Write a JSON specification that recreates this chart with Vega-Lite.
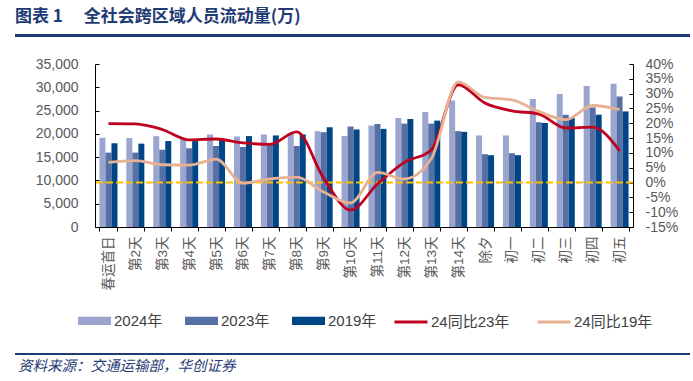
{
  "$schema": "https://vega.github.io/schema/vega-lite/v6.json",
  "padding": {"left": 15, "top": 8, "right": 3, "bottom": 0},
  "background": "white",
  "config": {"view": {"stroke": null}, "font": "Liberation Sans, Noto Sans CJK SC, sans-serif", "axis": {"labelOverlap": false, "labelBound": false}},
  "datasets": {
    "bars": [
      {"c": "春运首日", "yr": "2024年", "v": 19150}, {"c": "春运首日", "yr": "2023年", "v": 15970}, {"c": "春运首日", "yr": "2019年", "v": 17960},
      {"c": "第2天", "yr": "2024年", "v": 19100}, {"c": "第2天", "yr": "2023年", "v": 15970}, {"c": "第2天", "yr": "2019年", "v": 17900},
      {"c": "第3天", "yr": "2024年", "v": 19500}, {"c": "第3天", "yr": "2023年", "v": 16600}, {"c": "第3天", "yr": "2019年", "v": 18450},
      {"c": "第4天", "yr": "2024年", "v": 18950}, {"c": "第4天", "yr": "2023年", "v": 16900}, {"c": "第4天", "yr": "2019年", "v": 18450},
      {"c": "第5天", "yr": "2024年", "v": 19870}, {"c": "第5天", "yr": "2023年", "v": 17400}, {"c": "第5天", "yr": "2019年", "v": 18820},
      {"c": "第6天", "yr": "2024年", "v": 19450}, {"c": "第6天", "yr": "2023年", "v": 17180}, {"c": "第6天", "yr": "2019年", "v": 19520},
      {"c": "第7天", "yr": "2024年", "v": 19870}, {"c": "第7天", "yr": "2023年", "v": 17600}, {"c": "第7天", "yr": "2019年", "v": 19660},
      {"c": "第8天", "yr": "2024年", "v": 20220}, {"c": "第8天", "yr": "2023年", "v": 17400}, {"c": "第8天", "yr": "2019年", "v": 19870},
      {"c": "第9天", "yr": "2024年", "v": 20580}, {"c": "第9天", "yr": "2023年", "v": 20360}, {"c": "第9天", "yr": "2019年", "v": 21420},
      {"c": "第10天", "yr": "2024年", "v": 19520}, {"c": "第10天", "yr": "2023年", "v": 21570}, {"c": "第10天", "yr": "2019年", "v": 20940},
      {"c": "第11天", "yr": "2024年", "v": 21780}, {"c": "第11天", "yr": "2023年", "v": 22130}, {"c": "第11天", "yr": "2019年", "v": 21070},
      {"c": "第12天", "yr": "2024年", "v": 23400}, {"c": "第12天", "yr": "2023年", "v": 22200}, {"c": "第12天", "yr": "2019年", "v": 23190},
      {"c": "第13天", "yr": "2024年", "v": 24680}, {"c": "第13天", "yr": "2023年", "v": 22200}, {"c": "第13天", "yr": "2019年", "v": 22840},
      {"c": "第14天", "yr": "2024年", "v": 27150}, {"c": "第14天", "yr": "2023年", "v": 20580}, {"c": "第14天", "yr": "2019年", "v": 20430},
      {"c": "除夕", "yr": "2024年", "v": 19660}, {"c": "除夕", "yr": "2023年", "v": 15630}, {"c": "除夕", "yr": "2019年", "v": 15420},
      {"c": "初一", "yr": "2024年", "v": 19660}, {"c": "初一", "yr": "2023年", "v": 15840}, {"c": "初一", "yr": "2019年", "v": 15420},
      {"c": "初二", "yr": "2024年", "v": 27500}, {"c": "初二", "yr": "2023年", "v": 22490}, {"c": "初二", "yr": "2019年", "v": 22340},
      {"c": "初三", "yr": "2024年", "v": 28570}, {"c": "初三", "yr": "2023年", "v": 24110}, {"c": "初三", "yr": "2019年", "v": 23400},
      {"c": "初四", "yr": "2024年", "v": 30270}, {"c": "初四", "yr": "2023年", "v": 25670}, {"c": "初四", "yr": "2019年", "v": 24110},
      {"c": "初五", "yr": "2024年", "v": 30760}, {"c": "初五", "yr": "2023年", "v": 28000}, {"c": "初五", "yr": "2019年", "v": 24820}
    ],
    "lines": [
      {"c": "春运首日", "s": "24同比23年", "p": 19.9}, {"c": "第2天", "s": "24同比23年", "p": 19.8}, {"c": "第3天", "s": "24同比23年", "p": 17.9},
      {"c": "第4天", "s": "24同比23年", "p": 14.4}, {"c": "第5天", "s": "24同比23年", "p": 14.7}, {"c": "第6天", "s": "24同比23年", "p": 13.4},
      {"c": "第7天", "s": "24同比23年", "p": 12.9}, {"c": "第8天", "s": "24同比23年", "p": 17.1}, {"c": "第9天", "s": "24同比23年", "p": 1.5},
      {"c": "第10天", "s": "24同比23年", "p": -9.3}, {"c": "第11天", "s": "24同比23年", "p": -0.5}, {"c": "第12天", "s": "24同比23年", "p": 6.8},
      {"c": "第13天", "s": "24同比23年", "p": 11.0}, {"c": "第14天", "s": "24同比23年", "p": 33.0}, {"c": "除夕", "s": "24同比23年", "p": 26.8},
      {"c": "初一", "s": "24同比23年", "p": 24.2}, {"c": "初二", "s": "24同比23年", "p": 23.1}, {"c": "初三", "s": "24同比23年", "p": 18.4},
      {"c": "初四", "s": "24同比23年", "p": 18.7}, {"c": "初五", "s": "24同比23年", "p": 10.7},
      {"c": "春运首日", "s": "24同比19年", "p": 6.8}, {"c": "第2天", "s": "24同比19年", "p": 7.4}, {"c": "第3天", "s": "24同比19年", "p": 6.0},
      {"c": "第4天", "s": "24同比19年", "p": 5.9}, {"c": "第5天", "s": "24同比19年", "p": 7.9}, {"c": "第6天", "s": "24同比19年", "p": -0.2},
      {"c": "第7天", "s": "24同比19年", "p": 1.2}, {"c": "第8天", "s": "24同比19年", "p": 1.8}, {"c": "第9天", "s": "24同比19年", "p": -3.2},
      {"c": "第10天", "s": "24同比19年", "p": -6.9}, {"c": "第11天", "s": "24同比19年", "p": 3.4}, {"c": "第12天", "s": "24同比19年", "p": 1.2},
      {"c": "第13天", "s": "24同比19年", "p": 8.0}, {"c": "第14天", "s": "24同比19年", "p": 34.0}, {"c": "除夕", "s": "24同比19年", "p": 28.7},
      {"c": "初一", "s": "24同比19年", "p": 27.9}, {"c": "初二", "s": "24同比19年", "p": 24.0}, {"c": "初三", "s": "24同比19年", "p": 21.2},
      {"c": "初四", "s": "24同比19年", "p": 26.0}, {"c": "初五", "s": "24同比19年", "p": 24.6}
    ]
  },
  "spacing": 20,
  "vconcat": [
    {
      "width": 675,
      "height": 3,
      "view": {"fill": "#1f3b73", "stroke": null},
      "title": {"text": "图表 1  　全社会跨区域人员流动量(万)", "anchor": "start", "font": "Noto Sans CJK SC", "fontSize": 17, "fontWeight": "bold", "color": "#1f3b73", "offset": 8},
      "data": {"values": []},
      "mark": "text"
    },
    {
      "spacing": 0,
      "hconcat": [
        {"width": 20, "height": 163, "data": {"values": []}, "mark": "text"},
        {
          "width": 538,
          "height": 163,
          "layer": [
            {
              "data": {"name": "bars"},
              "mark": {"type": "bar"},
              "encoding": {
                "x": {
                  "field": "c", "type": "nominal",
                  "sort": ["春运首日","第2天","第3天","第4天","第5天","第6天","第7天","第8天","第9天","第10天","第11天","第12天","第13天","第14天","除夕","初一","初二","初三","初四","初五"],
                  "scale": {"paddingInner": 0.33, "paddingOuter": 0.165},
                  "axis": {"title": null, "labelAngle": 270, "labelFontSize": 13.5, "labelColor": "#595959", "labelPadding": 5, "domainColor": "#000000", "tickColor": "#000000", "tickSize": 4, "tickBand": "extent", "labelOverlap": false}
                },
                "xOffset": {"field": "yr", "type": "nominal", "sort": ["2024年", "2023年", "2019年"]},
                "y": {
                  "field": "v", "type": "quantitative",
                  "scale": {"domain": [0, 35000]},
                  "axis": {"title": null, "values": [0, 5000, 10000, 15000, 20000, 25000, 30000, 35000], "format": ",.0f", "labelOverlap": false, "grid": false, "tickSize": -4, "labelPadding": 21, "labelFontSize": 14, "labelColor": "#595959", "domainColor": "#000000", "tickColor": "#000000"}
                },
                "color": {
                  "field": "yr", "type": "nominal",
                  "sort": ["2024年", "2023年", "2019年"],
                  "scale": {"domain": ["2024年", "2023年", "2019年"], "range": ["#9aa6cf", "#5670a6", "#004586"]},
                  "legend": {"title": null, "orient": "none", "legendX": -20, "legendY": 237, "direction": "horizontal", "columns": 3, "symbolType": "M-1,-0.25H1V0.25H-1Z", "symbolSize": 1089, "symbolStrokeWidth": 0, "symbolOpacity": 1, "labelFontSize": 15, "labelColor": "#404040", "labelOffset": 3, "columnPadding": 22, "padding": 3}
                }
              }
            },
            {
              "layer": [
                {
                  "data": {"values": [{"ref": 0}]},
                  "mark": {"type": "rule", "color": "#ffc000", "strokeWidth": 2, "strokeDash": [7, 3]},
                  "encoding": {
                    "y": {
                      "field": "ref", "type": "quantitative",
                      "scale": {"domain": [-15, 40]},
                      "axis": {"orient": "right", "title": null, "values": [-15, -10, -5, 0, 5, 10, 15, 20, 25, 30, 35, 40], "labelExpr": "datum.value + '%'", "labelOverlap": false, "labelBound": false, "grid": false, "tickSize": -4, "labelPadding": 16, "labelFontSize": 14, "labelColor": "#595959", "domainColor": "#000000", "tickColor": "#000000"}
                    }
                  }
                },
                {
                  "data": {"name": "lines"},
                  "mark": {"type": "line", "interpolate": "monotone", "strokeWidth": 2.8},
                  "encoding": {
                    "x": {"field": "c", "type": "nominal", "sort": ["春运首日","第2天","第3天","第4天","第5天","第6天","第7天","第8天","第9天","第10天","第11天","第12天","第13天","第14天","除夕","初一","初二","初三","初四","初五"]},
                    "y": {
                      "field": "p", "type": "quantitative",
                      "scale": {"domain": [-15, 40]},
                      "axis": {"orient": "right", "title": null, "values": [-15, -10, -5, 0, 5, 10, 15, 20, 25, 30, 35, 40], "labelExpr": "datum.value + '%'", "labelOverlap": false, "labelBound": false, "grid": false, "tickSize": -4, "labelPadding": 16, "labelFontSize": 14, "labelColor": "#595959", "domainColor": "#000000", "tickColor": "#000000"}
                    },
                    "color": {
                      "field": "s", "type": "nominal",
                      "sort": ["24同比23年", "24同比19年"],
                      "scale": {"domain": ["24同比23年", "24同比19年"], "range": ["#c0001f", "#e8b192"]},
                      "legend": {"title": null, "orient": "none", "legendX": 295, "legendY": 237, "direction": "horizontal", "columns": 2, "symbolType": "stroke", "symbolSize": 1089, "symbolStrokeWidth": 3, "labelFontSize": 15, "labelColor": "#404040", "labelOffset": 2, "columnPadding": 21, "padding": 3}
                    }
                  }
                }
              ]
            }
          ],
          "resolve": {"scale": {"y": "independent", "color": "independent"}}
        }
      ]
    },
    {
      "width": 675,
      "height": 2,
      "view": {"fill": "#1f3b73", "stroke": null},
      "title": {"text": "资料来源：交通运输部，华创证券", "orient": "bottom", "anchor": "start", "font": "Noto Sans CJK SC", "fontSize": 14.5, "fontStyle": "italic", "fontWeight": "normal", "color": "#1f3b73", "offset": 5, "dx": 3},
      "data": {"values": []},
      "mark": "text"
    }
  ]
}
